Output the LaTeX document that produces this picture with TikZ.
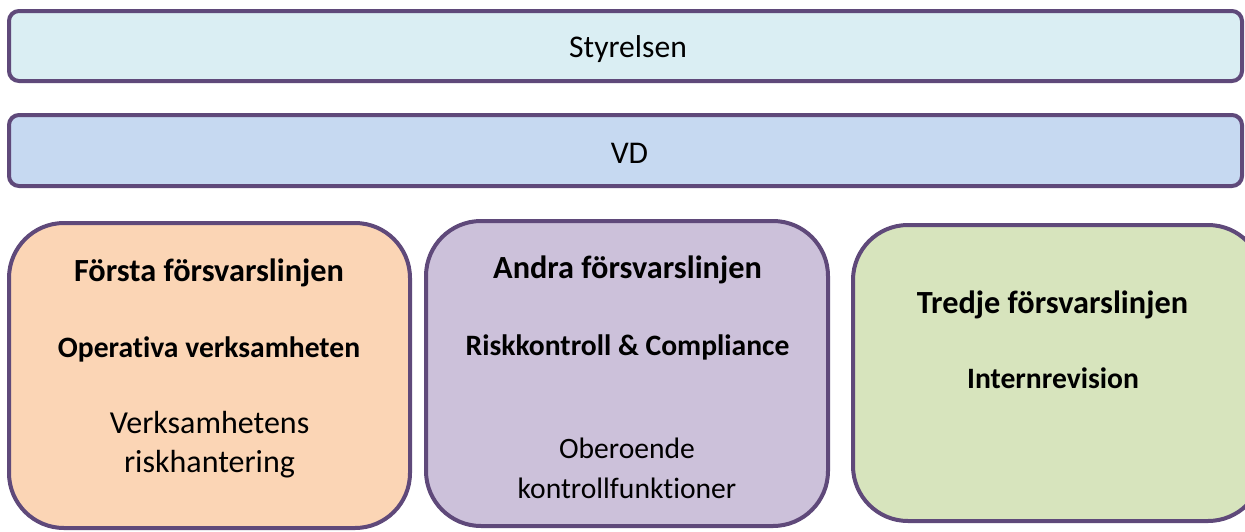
\documentclass[tikz,border=0pt]{standalone}
\usepackage{fontspec}
\setmainfont{Carlito}[Ligatures=NoCommon]
\definecolor{bordc}{HTML}{5F497A}
\definecolor{fillA}{HTML}{DAEEF3}
\definecolor{fillB}{HTML}{C6D9F1}
\definecolor{fillC}{HTML}{FBD5B5}
\definecolor{fillD}{HTML}{CCC1DA}
\definecolor{fillE}{HTML}{D7E4BD}
\tikzset{
  barbox/.style={draw=bordc, line width=4pt, rounded corners=10pt, inner sep=0pt, outer sep=0pt},
  linebox/.style={draw=bordc, line width=4pt, rounded corners=55pt, inner sep=0pt, outer sep=0pt},
  lbl/.style={anchor=base, inner sep=0pt, text=black},
  big/.style={font=\fontsize{31.6}{36}\selectfont},
  hd/.style={font=\bfseries\fontsize{32.3}{36}\selectfont},
  sub/.style={font=\bfseries\fontsize{29.6}{34}\selectfont},
  txt/.style={font=\fontsize{32}{36}\selectfont},
  txts/.style={font=\fontsize{29.6}{34}\selectfont}
}
\begin{document}
\begin{tikzpicture}[x=1pt,y=-1pt]
\useasboundingbox (0,0) rectangle (1245,531);
\clip (0,0) rectangle (1245,531);
\fill[white] (0,0) rectangle (1245,531);
\node[barbox, fill=fillA, minimum width=1233pt, minimum height=70pt] (styr) at (625.5,46) {};
\node[barbox, fill=fillB, minimum width=1233pt, minimum height=71pt] (vd) at (625.5,150.5) {};
\node[linebox, fill=fillC, minimum width=401pt, minimum height=305pt] (first) at (209.5,375.5) {};
\node[linebox, fill=fillD, minimum width=402pt, minimum height=305pt] (second) at (627,373.5) {};
\node[linebox, fill=fillE, minimum width=410pt, minimum height=296pt] (third) at (1058,373) {};
\node[lbl, big] (tstyr) at (628,57) {Styrelsen};
\node[lbl, big] (tvd) at (629.5,163) {VD};
\node[lbl, hd] (t1a) at (209,281) {Första försvarslinjen};
\node[lbl, sub] (t1b) at (209,357) {Operativa verksamheten};
\node[lbl, txt] (t1c) at (209.5,433) {Verksamhetens};
\node[lbl, txt] (t1d) at (209.5,472) {riskhantering};
\node[lbl, hd] (t2a) at (627.5,278) {Andra försvarslinjen};
\node[lbl, sub] (t2b) at (627.5,355) {Riskkontroll \& Compliance};
\node[lbl, txts] (t2c) at (627,458) {Oberoende};
\node[lbl, txts] (t2d) at (627,498) {kontrollfunktioner};
\node[lbl, hd] (t3a) at (1052.5,313) {Tredje försvarslinjen};
\node[lbl, sub] (t3b) at (1053,388) {Internrevision};
\end{tikzpicture}
\end{document}
